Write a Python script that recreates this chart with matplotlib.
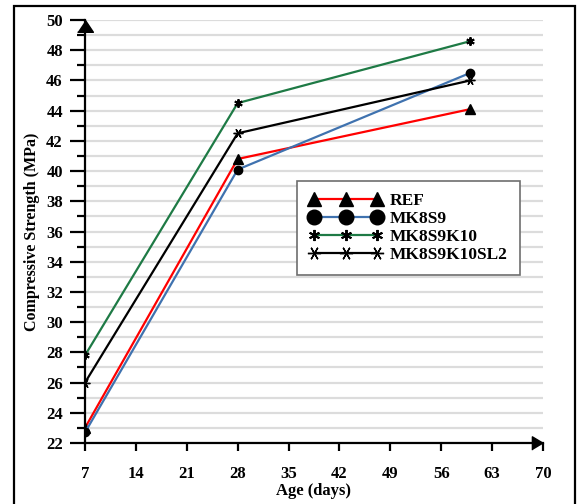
import matplotlib.pyplot as plt
from matplotlib.patches import Rectangle
from matplotlib.ticker import MultipleLocator

plt.rcParams['font.family'] = ['Liberation Serif', 'DejaVu Serif']
plt.rcParams['font.weight'] = 'bold'

# data
age_days = [7, 28, 60]
ref = [23.0, 40.8, 44.1]
mk8s9 = [22.7, 40.1, 46.5]
mk8s9k10 = [27.8, 44.5, 48.6]
mk8s9k10sl2 = [26.0, 42.5, 46.0]
x_ticks = [7, 14, 21, 28, 35, 42, 49, 56, 63, 70]
y_ticks = list(range(22, 51, 2))

fig = plt.figure(figsize=(5.77, 5.04), dpi=100)
ax = fig.add_axes([85 / 577, 1 - 443 / 504, 458 / 577, 423 / 504])

# outer frame around the whole picture
fig.add_artist(Rectangle((13.5 / 577, -0.05), 561 / 577, 1.05 - 5.5 / 504,
                         transform=fig.transFigure, fill=False,
                         edgecolor='black', linewidth=1.6))

ax.plot(age_days, ref, color='#ff0000', lw=1.6, marker='^', ms=7,
        mfc='black', mec='black', label='REF')
ax.plot(age_days, mk8s9, color='#3f72af', lw=1.6, marker='o', ms=6,
        mfc='black', mec='black', label='MK8S9')
ax.plot(age_days, mk8s9k10, color='#1e7a45', lw=1.6, marker=(6, 2, 0), ms=6,
        mfc='black', mec='black', mew=1.4, label='MK8S9K10')
ax.plot(age_days, mk8s9k10sl2, color='black', lw=1.6, marker=(6, 2, 90), ms=7,
        mfc='black', mec='black', mew=1.0, label='MK8S9K10SL2')

ax.set_xlim(7, 70)
ax.set_ylim(22, 50)
ax.set_xticks(x_ticks)
ax.set_yticks(y_ticks)
ax.yaxis.set_minor_locator(MultipleLocator(1))
ax.yaxis.grid(True, which='both', color='#dcdcdc', linewidth=1.6)
ax.set_axisbelow(True)

for side in ['top', 'right']:
    ax.spines[side].set_visible(False)
for side in ['left', 'bottom']:
    ax.spines[side].set_linewidth(1.6)
    ax.spines[side].set_color('black')

ax.tick_params(axis='y', which='major', direction='out', length=11, width=1.6,
               labelsize=12, pad=5)
ax.tick_params(axis='y', which='minor', direction='out', length=6, width=1.6)
ax.tick_params(axis='x', which='major', direction='out', length=5.5, width=1.6,
               labelsize=12, pad=11)
for lab in ax.get_xticklabels() + ax.get_yticklabels():
    lab.set_fontweight('bold')

# arrow heads on the axes
ax.plot([0], [1], marker=[(-0.67, -1), (0.67, -1), (0, 0)], ms=17,
        color='black', transform=ax.transAxes, clip_on=False)
ax.plot([1], [0], marker=[(-1, -0.6), (-1, 0.6), (0, 0)], ms=16,
        color='black', transform=ax.transAxes, clip_on=False)

ax.set_xlabel('Age (days)', fontsize=12, fontweight='bold', labelpad=1)
ax.set_ylabel('Compressive Strength (MPa)', fontsize=11.5, fontweight='bold', labelpad=4)

leg = ax.legend(loc='upper left', bbox_to_anchor=(0.463, 0.619), borderaxespad=0,
                numpoints=3, handlelength=4.2, handletextpad=0.45,
                labelspacing=0.1, borderpad=0.7, fancybox=False, framealpha=1,
                prop={'size': 12.5, 'weight': 'bold'})
leg.get_frame().set_edgecolor('#6e6e6e')
leg.get_frame().set_linewidth(1.2)
for handle, size in zip(leg.legend_handles, [10, 10.5, 8, 9.5]):
    handle.set_markersize(size)

fig.savefig('out.png', dpi=100)
